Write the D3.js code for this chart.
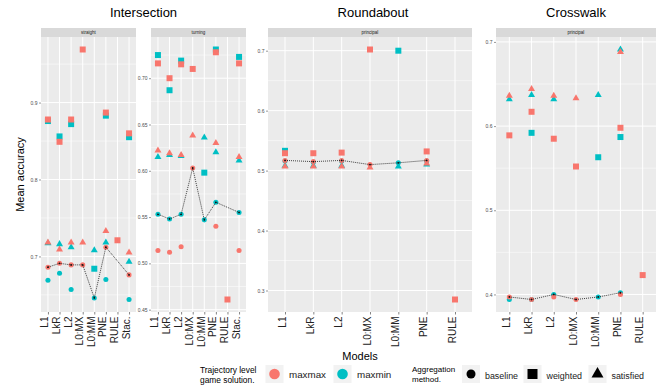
<!DOCTYPE html>
<html lang="en">
<head>
    <meta charset="UTF-8">
    <title>Mean accuracy by model</title>
    <script src="https://cdn.jsdelivr.net/npm/d3@7"></script>
    <style>
        body {
            margin: 0;
            background: white;
        }
        svg {
            display: block;
        }
        text {
            font-family: "Liberation Sans", Arial, sans-serif;
        }
    </style>
</head>
<body>
    <script>
        //categories
        const modelsInter = ["L1", "LkR", "L2", "L0:MX", "L0:MM", "PNE", "RULE", "Stac."];
        const modelsOther = ["L1", "LkR", "L2", "L0:MX", "L0:MM", "PNE", "RULE"];

        //intersection - straight
        const straightMaxmaxBaseline = [0.686, 0.691, 0.689, 0.689, null, 0.712, null, 0.676];
        const straightMaxminBaseline = [0.669, 0.678, 0.657, null, 0.646, 0.670, null, 0.644];
        const straightMaxmaxWeighted = [0.878, 0.849, 0.878, 0.969, null, 0.887, 0.721, 0.860];
        const straightMaxminWeighted = [0.876, 0.856, 0.872, null, 0.684, 0.883, null, 0.855];
        const straightMaxmaxSatisfied = [0.718, 0.709, 0.718, 0.718, null, 0.733, null, 0.705];
        const straightMaxminSatisfied = [0.717, 0.716, 0.712, null, 0.708, 0.718, null, 0.693];

        //intersection - turning
        const turningMaxmaxBaseline = [0.514, 0.512, 0.518, 0.603, null, 0.540, null, 0.514];
        const turningMaxminBaseline = [0.553, 0.548, 0.553, null, 0.547, 0.566, null, 0.555];
        const turningMaxmaxWeighted = [0.716, 0.700, 0.715, 0.710, null, 0.728, 0.461, 0.716];
        const turningMaxminWeighted = [0.725, 0.687, 0.719, null, 0.598, 0.731, null, 0.723];
        const turningMaxmaxSatisfied = [0.622, 0.619, 0.617, 0.638, null, 0.630, null, 0.615];
        const turningMaxminSatisfied = [0.615, 0.617, 0.616, null, 0.636, 0.620, null, 0.611];

        //roundabout
        const roundMaxmaxBaseline = [0.517, 0.515, 0.517, 0.510, null, 0.517, null];
        const roundMaxminBaseline = [0.516, 0.514, 0.516, null, 0.513, 0.516, null];
        const roundMaxmaxWeighted = [0.529, 0.529, 0.530, 0.702, null, 0.532, 0.285];
        const roundMaxminWeighted = [0.533, null, null, null, 0.700, null, null];
        const roundMaxmaxSatisfied = [0.507, 0.507, 0.507, 0.505, null, 0.512, null];
        const roundMaxminSatisfied = [0.508, 0.508, 0.508, null, 0.507, 0.510, null];

        //crosswalk
        const crossMaxmaxBaseline = [0.397, 0.394, 0.397, 0.394, null, 0.400, null];
        const crossMaxminBaseline = [0.394, 0.394, 0.400, null, 0.397, 0.402, null];
        const crossMaxmaxWeighted = [0.589, 0.617, 0.585, 0.552, null, 0.598, 0.423];
        const crossMaxminWeighted = [null, 0.592, null, null, 0.563, 0.587, null];
        const crossMaxmaxSatisfied = [0.636, 0.644, 0.636, 0.633, null, 0.688, null];
        const crossMaxminSatisfied = [0.632, 0.637, 0.632, null, 0.637, 0.691, null];

        //tick labels
        const straightTicks = [0.7, 0.8, 0.9];
        const turningTicks = [0.45, 0.50, 0.55, 0.60, 0.65, 0.70];
        const roundTicks = [0.3, 0.4, 0.5, 0.6, 0.7];
        const crossTicks = [0.4, 0.5, 0.6, 0.7];

        const colors = { maxmax: "#F8766D", maxmin: "#00BFC4" };
        const shapes = { baseline: d3.symbolCircle, weighted: d3.symbolSquare, satisfied: d3.symbolTriangle };
        const shapeSize = { baseline: 20, weighted: 36, satisfied: 21 };

        const width = 659;
        const height = 389;
        const panelTop = 37, panelBottom = 312;

        let svg = d3.select("body").append("svg")
            .attr("width", width)
            .attr("height", height);

        //one entry per panel
        const facets = [
            {
                strip: "straight", models: modelsInter, x0: 41, x1: 136, ticks: straightTicks, fmt: d3.format(".1f"),
                series: {
                    maxmax: { baseline: straightMaxmaxBaseline, weighted: straightMaxmaxWeighted, satisfied: straightMaxmaxSatisfied },
                    maxmin: { baseline: straightMaxminBaseline, weighted: straightMaxminWeighted, satisfied: straightMaxminSatisfied }
                }
            },
            {
                strip: "turning", models: modelsInter, x0: 151, x1: 246, ticks: turningTicks, fmt: d3.format(".2f"),
                series: {
                    maxmax: { baseline: turningMaxmaxBaseline, weighted: turningMaxmaxWeighted, satisfied: turningMaxmaxSatisfied },
                    maxmin: { baseline: turningMaxminBaseline, weighted: turningMaxminWeighted, satisfied: turningMaxminSatisfied }
                }
            },
            {
                strip: "principal", models: modelsOther, x0: 268, x1: 472, ticks: roundTicks, fmt: d3.format(".1f"),
                series: {
                    maxmax: { baseline: roundMaxmaxBaseline, weighted: roundMaxmaxWeighted, satisfied: roundMaxmaxSatisfied },
                    maxmin: { baseline: roundMaxminBaseline, weighted: roundMaxminWeighted, satisfied: roundMaxminSatisfied }
                }
            },
            {
                strip: "principal", models: modelsOther, x0: 496, x1: 656, ticks: crossTicks, fmt: d3.format(".1f"),
                series: {
                    maxmax: { baseline: crossMaxmaxBaseline, weighted: crossMaxmaxWeighted, satisfied: crossMaxmaxSatisfied },
                    maxmin: { baseline: crossMaxminBaseline, weighted: crossMaxminWeighted, satisfied: crossMaxminSatisfied }
                }
            }
        ];

        facets.forEach(f => {
            //flatten into points
            let points = [];
            ["maxmin", "maxmax"].forEach(sol => {
                ["baseline", "weighted", "satisfied"].forEach(agg => {
                    f.series[sol][agg].forEach((v, i) => {
                        if (v !== null) points.push({ model: f.models[i], value: v, sol: sol, agg: agg });
                    });
                });
            });

            //ggplot-like 5% expansion
            const ext = d3.extent(points, d => d.value);
            const pad = (ext[1] - ext[0]) * 0.05;
            const y = d3.scaleLinear().domain([ext[0] - pad, ext[1] + pad]).range([panelBottom, panelTop]);
            const x = d3.scalePoint().domain(f.models).range([f.x0, f.x1]).padding(0.6);

            let g = svg.append("g");

            //panel + strip
            g.append("rect").attr("x", f.x0).attr("y", panelTop).attr("width", f.x1 - f.x0).attr("height", panelBottom - panelTop)
                .attr("fill", "#EBEBEB");
            g.append("rect").attr("x", f.x0).attr("y", 28).attr("width", f.x1 - f.x0).attr("height", 9)
                .attr("fill", "#D9D9D9");
            g.append("text").attr("x", (f.x0 + f.x1) / 2).attr("y", 34)
                .attr("text-anchor", "middle").attr("font-size", 4.5).attr("fill", "#1A1A1A")
                .text(f.strip);

            //minor grid
            const step = f.ticks[1] - f.ticks[0];
            let minor = [f.ticks[0] - step / 2].concat(f.ticks.map(t => t + step / 2))
                .filter(t => t > y.domain()[0] && t < y.domain()[1]);
            g.selectAll(".minor").data(minor).enter().append("line")
                .attr("x1", f.x0).attr("x2", f.x1)
                .attr("y1", d => y(d)).attr("y2", d => y(d))
                .attr("stroke", "white").attr("stroke-width", 0.5);
            //major grid
            g.selectAll(".major").data(f.ticks).enter().append("line")
                .attr("x1", f.x0).attr("x2", f.x1)
                .attr("y1", d => y(d)).attr("y2", d => y(d))
                .attr("stroke", "white").attr("stroke-width", 1);
            g.selectAll(".vgrid").data(f.models).enter().append("line")
                .attr("x1", d => x(d)).attr("x2", d => x(d))
                .attr("y1", panelTop).attr("y2", panelBottom)
                .attr("stroke", "white").attr("stroke-width", 1);

            //y axis
            let yAxis = g.append("g").attr("transform", `translate(${f.x0},0)`)
                .call(d3.axisLeft(y).tickValues(f.ticks).tickFormat(f.fmt).tickSize(2).tickPadding(1.5));
            yAxis.select(".domain").remove();
            yAxis.selectAll("line").attr("stroke", "#333").attr("stroke-width", 0.5);
            yAxis.selectAll("text").attr("font-size", 5).attr("fill", "#4D4D4D")
                .attr("font-family", "Liberation Sans, Arial, sans-serif");

            //x axis
            let xAxis = g.append("g").attr("transform", `translate(0,${panelBottom})`)
                .call(d3.axisBottom(x).tickSize(2.5).tickPadding(0));
            xAxis.select(".domain").remove();
            xAxis.selectAll("line").attr("stroke", "#333").attr("stroke-width", 0.6);
            xAxis.selectAll("text")
                .attr("font-size", 10).attr("fill", "#222")
                .attr("font-family", "Liberation Sans, Arial, sans-serif")
                .attr("text-anchor", "end")
                .attr("dy", 0)
                .attr("transform", "translate(0,4.5) rotate(-90)")
                .attr("y", 0).attr("x", 0);

            //points
            g.selectAll(".pt").data(points).enter().append("path")
                .attr("d", d => d3.symbol(shapes[d.agg], shapeSize[d.agg])())
                .attr("transform", d => `translate(${x(d.model)},${y(d.value)})`)
                .attr("fill", d => colors[d.sol]);

            //dotted line through the best baseline per model
            let best = f.models.map((m, i) => {
                const vals = [f.series.maxmax.baseline[i], f.series.maxmin.baseline[i]].filter(v => v !== null);
                return vals.length ? { model: m, value: d3.max(vals) } : null;
            }).filter(d => d !== null);

            g.append("path").datum(best)
                .attr("d", d3.line().x(d => x(d.model)).y(d => y(d.value)))
                .attr("fill", "none").attr("stroke", "#111").attr("stroke-width", 0.8)
                .attr("stroke-dasharray", "1,1");
            g.selectAll(".bp").data(best).enter().append("circle")
                .attr("cx", d => x(d.model)).attr("cy", d => y(d.value)).attr("r", 0.9)
                .attr("fill", "#111");
        });

        //titles
        const titles = [
            { text: "Intersection", x: 143.5 },
            { text: "Roundabout", x: 373 },
            { text: "Crosswalk", x: 576 }
        ];
        svg.selectAll(".title").data(titles).enter().append("text")
            .attr("x", d => d.x).attr("y", 17)
            .attr("text-anchor", "middle").attr("font-size", 13).attr("fill", "black")
            .text(d => d.text);

        //axis titles
        svg.append("text")
            .attr("transform", "translate(24,174.5) rotate(-90)")
            .attr("text-anchor", "middle").attr("font-size", 11).attr("fill", "black")
            .text("Mean accuracy");
        svg.append("text")
            .attr("x", 360).attr("y", 360)
            .attr("text-anchor", "middle").attr("font-size", 11).attr("fill", "black")
            .text("Models");

        //legends
        let legend = svg.append("g");
        legend.append("text").attr("x", 200).attr("y", 372.5).attr("font-size", 8.4).text("Trajectory level");
        legend.append("text").attr("x", 200).attr("y", 382.5).attr("font-size", 8.4).text("game solution.");

        const colorKeys = [
            { key: "maxmax", x: 265.5 },
            { key: "maxmin", x: 333.5 }
        ];
        colorKeys.forEach(k => {
            legend.append("rect").attr("x", k.x).attr("y", 365).attr("width", 18).attr("height", 18).attr("fill", "#F2F2F2");
            legend.append("circle").attr("cx", k.x + 9).attr("cy", 374).attr("r", 5.3).attr("fill", colors[k.key]);
            legend.append("text").attr("x", k.x + 23.5).attr("y", 378).attr("font-size", 9.8).attr("fill", "#1A1A1A").text(k.key);
        });

        legend.append("text").attr("x", 412).attr("y", 372).attr("font-size", 8).text("Aggregation");
        legend.append("text").attr("x", 412).attr("y", 382).attr("font-size", 8).text("method.");

        const shapeKeys = [
            { key: "baseline", x: 462, size: 64 },
            { key: "weighted", x: 523.5, size: 100 },
            { key: "satisfied", x: 588.5, size: 62 }
        ];
        shapeKeys.forEach(k => {
            legend.append("rect").attr("x", k.x).attr("y", 365).attr("width", 18).attr("height", 18).attr("fill", "#F2F2F2");
            legend.append("path").attr("d", d3.symbol(shapes[k.key], k.size)())
                .attr("transform", `translate(${k.x + 9},374)`).attr("fill", "black");
            legend.append("text").attr("x", k.x + 23).attr("y", 378.5).attr("font-size", 8.9).attr("fill", "#1A1A1A").text(k.key);
        });
    </script>
</body>
</html>
